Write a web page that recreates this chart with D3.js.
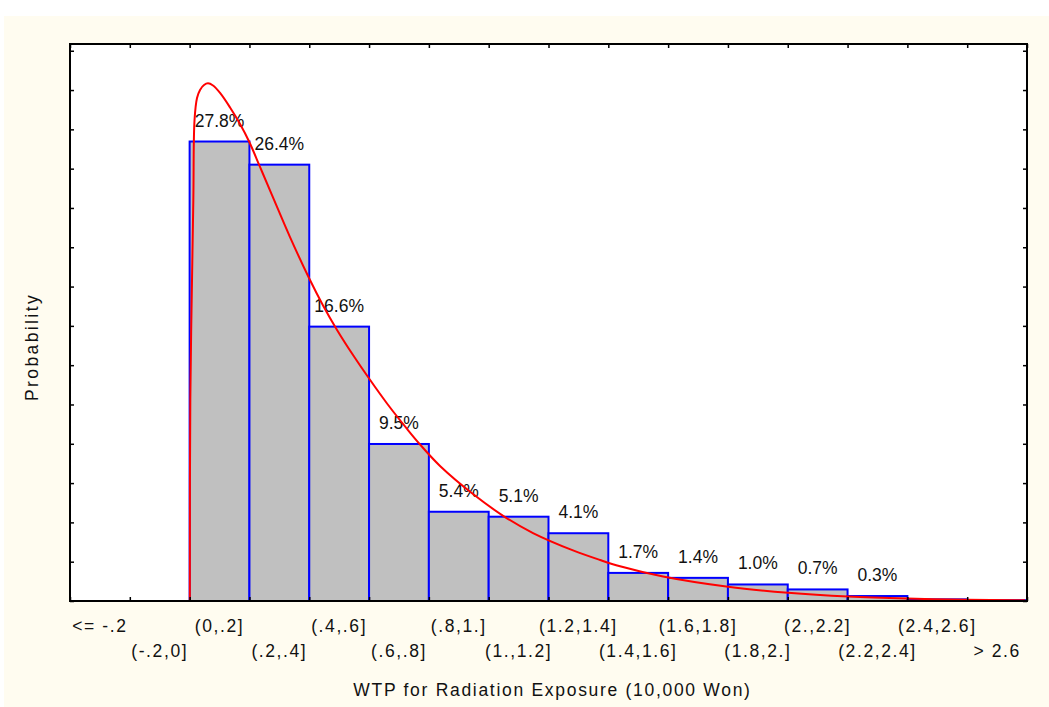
<!DOCTYPE html>
<html>
<head>
<meta charset="utf-8">
<script src="https://cdn.jsdelivr.net/npm/d3@7"></script>
<style>
  body { margin: 0; background: #ffffff; }
  text { font-family: "Liberation Sans", Arial, sans-serif; fill: #111; }
  .tickLabel { font-size: 17.5px; letter-spacing: 1.6px; }
  .barText { font-size: 17.5px; }
  .aTitle { font-size: 17.5px; letter-spacing: 1.7px; }
</style>
</head>
<body>
<div id="chart"></div>
<script>
// Histogram data
var categories = ["<= -.2", "(-.2,0]", "(0,.2]", "(.2,.4]", "(.4,.6]", "(.6,.8]", "(.8,1.]", "(1.,1.2]",
  "(1.2,1.4]", "(1.4,1.6]", "(1.6,1.8]", "(1.8,2.]", "(2.,2.2]", "(2.2,2.4]", "(2.4,2.6]", "> 2.6"];
var percents = [0, 0, 27.8, 26.4, 16.6, 9.5, 5.4, 5.1, 4.1, 1.7, 1.4, 1.0, 0.7, 0.3, 0.1, 0.05];
var barLabels = ["", "", "27.8%", "26.4%", "16.6%", "9.5%", "5.4%", "5.1%", "4.1%", "1.7%", "1.4%",
  "1.0%", "0.7%", "0.3%", "", ""];
var binEdges = [-0.4, -0.2, 0, 0.2, 0.4, 0.6, 0.8, 1.0, 1.2, 1.4, 1.6, 1.8, 2.0, 2.2, 2.4, 2.6, 2.8];

// Fitted density curve (value, percent)
var curveX = [0.0007, 0.0023, 0.0124, 0.0164, 0.0247, 0.0348, 0.0482, 0.0615, 0.0782, 0.1017, 0.1352,
  0.1686, 0.1996, 0.2354, 0.2755, 0.3357, 0.3992, 0.4461, 0.4929, 0.5464, 0.5966, 0.6601, 0.727,
  0.7704, 0.8373, 0.9476, 1.0546, 1.1482, 1.282, 1.3723, 1.4392, 1.583, 1.8004, 2.001, 2.2014,
  2.3987, 2.5993, 2.7933];
var curveY = [0, 12.16, 24.26, 29.1, 30.43, 30.92, 31.22, 31.32, 31.19, 30.74, 29.86,
  28.86, 27.77, 26.26, 24.56, 22.02, 19.54, 17.88, 16.4, 14.88, 13.55, 11.95, 10.41,
  9.47, 8.17, 6.47, 5.08, 4.11, 3.06, 2.48, 2.1, 1.48, 0.86, 0.5, 0.27,
  0.145, 0.08, 0.04];

var yMax = 33.7;
var yTickStep = 2.378;

var svgWidth = 1049;
var svgHeight = 707;

var margin = { top: 44, right: 22, bottom: 106, left: 70 };
var width = svgWidth - margin.left - margin.right;
var height = svgHeight - margin.top - margin.bottom;

var svg = d3.select("#chart")
  .append("svg")
  .attr("width", svgWidth)
  .attr("height", svgHeight);

// cream panel
svg.append("rect")
  .attr("x", 4)
  .attr("y", 16)
  .attr("width", svgWidth - 4)
  .attr("height", svgHeight - 16)
  .attr("fill", "#fffcf0");

var chartGroup = svg.append("g")
  .attr("transform", `translate(${margin.left}, ${margin.top})`);

// plot area
chartGroup.append("rect")
  .attr("width", width)
  .attr("height", height)
  .attr("fill", "#ffffff");

// scales
var xBand = d3.scaleBand()
  .domain(categories)
  .range([0, width])
  .padding(0);

var xValue = d3.scaleLinear()
  .domain([binEdges[0], binEdges[binEdges.length - 1]])
  .range([0, width]);

var yLinearScale = d3.scaleLinear()
  .domain([0, yMax])
  .range([height, 0]);

var yTicks = d3.range(0, yMax, yTickStep);

// bars
chartGroup.selectAll(".bar")
  .data(percents)
  .enter()
  .append("rect")
  .attr("class", "bar")
  .attr("x", (d, i) => xBand(categories[i]))
  .attr("y", d => yLinearScale(d))
  .attr("width", xBand.bandwidth())
  .attr("height", d => height - yLinearScale(d))
  .attr("fill", "#c0c0c0")
  .attr("stroke", "#0000ff")
  .attr("stroke-width", 2);

// bar labels
chartGroup.selectAll(".barText")
  .data(percents)
  .enter()
  .append("text")
  .attr("class", "barText")
  .attr("x", (d, i) => xBand(categories[i]) + xBand.bandwidth() / 2)
  .attr("y", d => yLinearScale(d) - 15)
  .attr("text-anchor", "middle")
  .text((d, i) => barLabels[i]);

// fitted curve
chartGroup.append("clipPath")
  .attr("id", "plotClip")
  .append("rect")
  .attr("width", width)
  .attr("height", height + 1);

var line = d3.line()
  .x(d => xValue(d[0]))
  .y(d => yLinearScale(d[1]))
  .curve(d3.curveCatmullRom.alpha(0.5));

chartGroup.append("path")
  .datum(curveX.map((x, i) => [x, curveY[i]]))
  .attr("d", line)
  .attr("clip-path", "url(#plotClip)")
  .attr("fill", "none")
  .attr("stroke", "#ff0000")
  .attr("stroke-width", 2);

// inner ticks on all four sides
function styleTicks(g) {
  g.select(".domain").remove();
  g.selectAll("line").attr("stroke", "#000").attr("stroke-width", 1.5);
}

chartGroup.append("g")
  .attr("transform", `translate(0, ${height})`)
  .call(d3.axisBottom(xValue).tickValues(binEdges).tickSize(-4).tickFormat(""))
  .call(styleTicks);

chartGroup.append("g")
  .call(d3.axisTop(xValue).tickValues(binEdges).tickSize(-4).tickFormat(""))
  .call(styleTicks);

chartGroup.append("g")
  .call(d3.axisLeft(yLinearScale).tickValues(yTicks).tickSize(-4).tickFormat(""))
  .call(styleTicks);

chartGroup.append("g")
  .attr("transform", `translate(${width}, 0)`)
  .call(d3.axisRight(yLinearScale).tickValues(yTicks).tickSize(-4).tickFormat(""))
  .call(styleTicks);

// frame
chartGroup.append("rect")
  .attr("width", width)
  .attr("height", height)
  .attr("fill", "none")
  .attr("stroke", "#000")
  .attr("stroke-width", 2);

// category labels, staggered on two rows
var labelAxis = chartGroup.append("g")
  .attr("transform", `translate(0, ${height})`)
  .call(d3.axisBottom(xBand).tickSize(0));

labelAxis.select(".domain").remove();
labelAxis.attr("font-size", null).attr("font-family", null);
labelAxis.selectAll("text")
  .attr("class", "tickLabel")
  .attr("dy", null)
  .attr("y", (d, i) => i % 2 === 0 ? 31 : 56);

// axis titles
chartGroup.append("text")
  .attr("class", "aTitle")
  .attr("x", width / 2 + 4)
  .attr("y", height + 95)
  .attr("text-anchor", "middle")
  .text("WTP for Radiation Exposure (10,000 Won)");

svg.append("text")
  .attr("class", "aTitle")
  .attr("transform", "translate(38, 347) rotate(-90)")
  .attr("text-anchor", "middle")
  .style("letter-spacing", "2.4px")
  .text("Probability");
</script>
</body>
</html>
